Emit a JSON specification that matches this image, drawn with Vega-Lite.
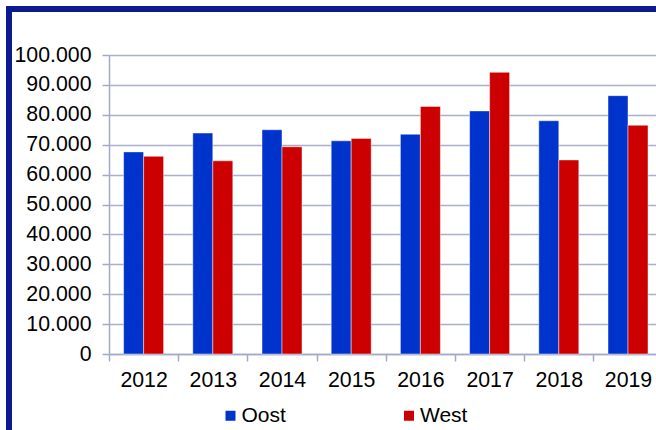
{
  "$schema": "https://vega.github.io/schema/vega-lite/v6.json",
  "width": 697,
  "height": 471,
  "autosize": {"type": "none"},
  "padding": {"left": 9, "top": 9, "right": -50, "bottom": -50},
  "background": "#ffffff",
  "config": {
    "locale": {"number": {"decimal": ",", "thousands": ".", "grouping": [3], "currency": ["€", ""]}},
    "view": {"stroke": "#0b1a8e", "strokeWidth": 6, "fill": "#ffffff"},
    "font": "Liberation Sans",
    "axis": {"labelFont": "Liberation Sans", "labelColor": "#000000", "labelFontSize": 21.3, "domainColor": "#a3aac8", "tickColor": "#a3aac8", "gridColor": "#abb0c9"}
  },
  "data": {
    "values": [
      {"year": "2012", "region": "Oost", "value": 67600},
      {"year": "2012", "region": "West", "value": 66100},
      {"year": "2013", "region": "Oost", "value": 73900},
      {"year": "2013", "region": "West", "value": 64600},
      {"year": "2014", "region": "Oost", "value": 75000},
      {"year": "2014", "region": "West", "value": 69300},
      {"year": "2015", "region": "Oost", "value": 71300},
      {"year": "2015", "region": "West", "value": 72100},
      {"year": "2016", "region": "Oost", "value": 73500},
      {"year": "2016", "region": "West", "value": 82800},
      {"year": "2017", "region": "Oost", "value": 81300},
      {"year": "2017", "region": "West", "value": 94200},
      {"year": "2018", "region": "Oost", "value": 78000},
      {"year": "2018", "region": "West", "value": 64900},
      {"year": "2019", "region": "Oost", "value": 86400},
      {"year": "2019", "region": "West", "value": 76500}
    ]
  },
  "mark": {"type": "bar", "stroke": "#ffffff", "strokeOpacity": 0.45, "strokeWidth": 1},
  "encoding": {
    "x": {
      "field": "year", "type": "nominal",
      "scale": {"range": [100, 653.6], "paddingInner": 0, "paddingOuter": 0},
      "axis": {"title": null, "labelAngle": 0, "tickBand": "extent", "tickSize": 7, "labelPadding": 8, "offset": -126, "grid": false, "domainWidth": 1.5, "tickWidth": 1.5}
    },
    "xOffset": {"field": "region", "type": "nominal", "scale": {"paddingOuter": 0.73, "paddingInner": 0}},
    "y": {
      "field": "value", "type": "quantitative",
      "scale": {"domain": [0, 100000], "range": [345, 46], "nice": false},
      "axis": {"title": null, "values": [0, 10000, 20000, 30000, 40000, 50000, 60000, 70000, 80000, 90000, 100000], "format": ",d", "tickSize": 7, "labelPadding": 11, "offset": -100, "grid": true, "gridWidth": 1.5, "domainWidth": 1.5, "tickWidth": 1.5}
    },
    "y2": {"datum": 0},
    "color": {
      "field": "region", "type": "nominal",
      "scale": {"domain": ["Oost", "West"], "range": ["#0033cc", "#cc0000"]},
      "legend": {"title": null, "orient": "none", "legendX": 211, "legendY": 396, "direction": "horizontal", "columns": 2, "columnPadding": 112.5, "symbolType": "square", "symbolSize": 100, "symbolStrokeWidth": 0, "labelFontSize": 21, "labelFont": "Liberation Sans", "labelColor": "#000000", "labelOffset": 0.5, "padding": 0}
    }
  }
}
